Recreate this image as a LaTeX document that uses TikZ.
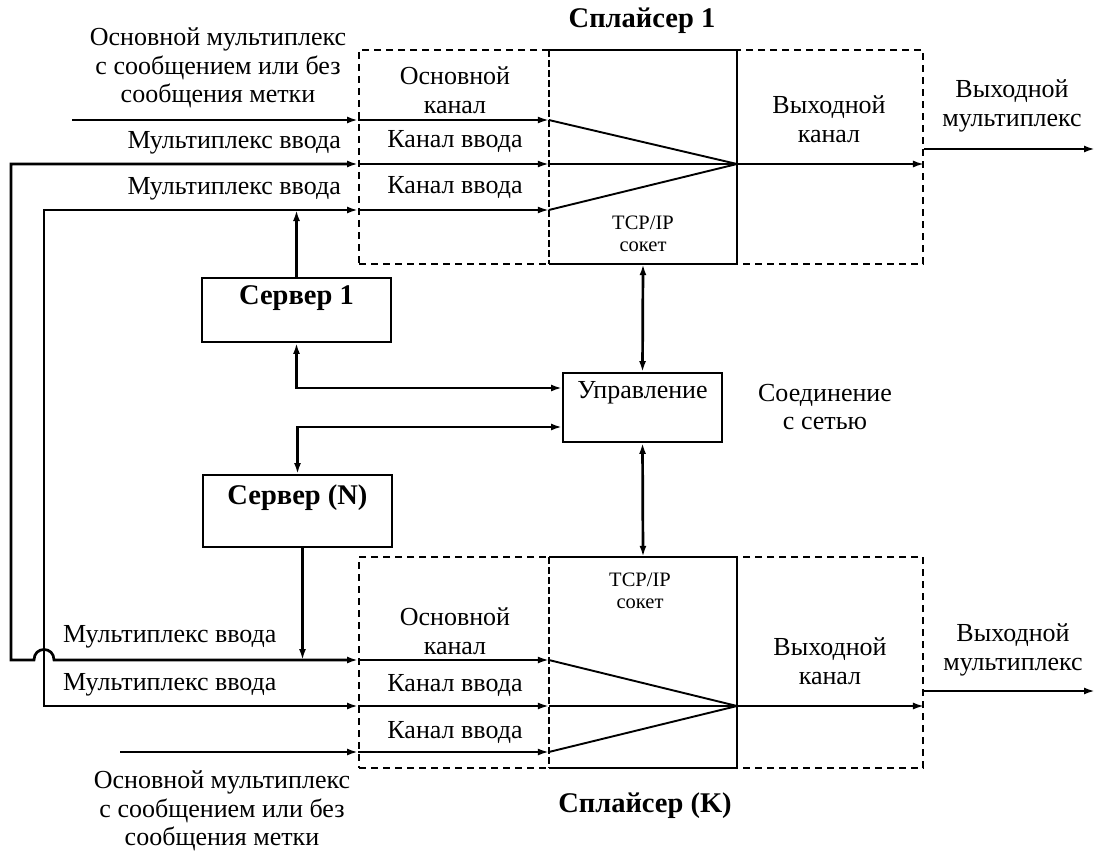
\documentclass[tikz,border=0pt]{standalone}
\usepackage{fontspec}
\setmainfont{Liberation Serif}
\usetikzlibrary{arrows.meta,calc}

\tikzset{
  lbl/.style={font=\fontsize{26}{28.5}\selectfont,align=center,inner sep=0pt},
  ttl/.style={font=\fontsize{28.5}{30}\selectfont\bfseries,inner sep=0pt},
  sml/.style={font=\fontsize{20.5}{22}\selectfont,align=center,inner sep=0pt},
  wire/.style={line width=2.7pt},
  fine/.style={line width=1.9pt},
  sbox/.style={draw,line width=1.9pt,inner sep=0pt},
  dbox/.style={draw,line width=1.9pt,dash pattern=on 7pt off 5pt,inner sep=0pt},
}

\begin{document}
\begin{tikzpicture}[x=1pt,y=-1pt,>={Latex[length=11pt,width=7pt]}]
          \useasboundingbox (0,0) rectangle (1097,853);
          \node[dbox,minimum width=564pt,minimum height=214pt] (spl1) at (641,157) {};
          \node[inner sep=0pt,minimum width=188pt,minimum height=214pt] (sk1) at (643,157) {};
          \draw[fine] (sk1.north west) -- (sk1.north east) -- (sk1.south east) -- (sk1.south west);
          \draw[fine,dash pattern=on 7pt off 3pt] (sk1.north west) -- (sk1.south west);
          \node[dbox,minimum width=564pt,minimum height=211pt] (spl2) at (641,662.5) {};
          \node[inner sep=0pt,minimum width=188pt,minimum height=211pt] (sk2) at (643,662.5) {};
          \draw[fine] (sk2.north west) -- (sk2.north east) -- (sk2.south east) -- (sk2.south west);
          \draw[fine,dash pattern=on 7pt off 3pt] (sk2.north west) -- (sk2.south west);
          \node[sbox,minimum width=189pt,minimum height=64pt,
                label={[ttl,anchor=north,yshift=-8pt]north:Сервер 1}] (srv1) at (296.5,310) {};
          \node[sbox,minimum width=189pt,minimum height=72pt,
                label={[ttl,anchor=north,yshift=-10pt]north:Сервер (N)}] (srvN) at (297.5,511) {};
          \node[sbox,minimum width=159pt,minimum height=69pt,
                label={[lbl,anchor=north,yshift=-9pt]north:Управление}] (ctrl) at (642.5,407.5) {};
          \coordinate (m1) at (737,164);
          \coordinate (m2) at (737,706);
          \foreach \y [count=\i] in {120,164,210}{
            \coordinate (p\i) at (spl1.west |- 0,\y);
            \coordinate (q\i) at (sk1.west |- 0,\y);
            \draw[fine,->] (p\i) -- (q\i);
            \draw[fine] (q\i) -- (m1);
          }
          \foreach \y [count=\i from 4] in {660,706,752}{
            \coordinate (p\i) at (spl2.west |- 0,\y);
            \coordinate (q\i) at (sk2.west |- 0,\y);
            \draw[fine,->] (p\i) -- (q\i);
            \draw[fine] (q\i) -- (m2);
          }
          \coordinate (in1) at (72,120);
          \coordinate (in2) at (120,752);
          \coordinate (out1) at (1095,149);
          \coordinate (out2) at (1095,691);
          \coordinate (jn) at ($(srvN.south)+(5,0)$);
          \draw[wire,->] (in1) -- (p1);
          \draw[wire,->] (in2) -- (p6);
          \draw[wire,<->] (p2) -- (11,164) -- (11,660) -- (34,660)
                .. controls (34,646) and (54,646) .. (54,660) -- (p4);
          \draw[wire,<->] (p3) -- (44,210) -- (44,706) -- (p5);
          \draw[wire,->] (srv1.north) -- (srv1.north |- p3);
          \draw[wire,->] (jn) -- (jn |- p4);
          \draw[wire,<->] (srv1.south) |- ([yshift=19.5pt]ctrl.west);
          \draw[wire,<->] (srvN.north) |- ([yshift=-19.5pt]ctrl.west);
          \draw[wire,<->] (sk1.south) -- (ctrl.north);
          \draw[wire,<->] (ctrl.south) -- (sk2.north);
          \draw[fine,->] (m1) -- (spl1.east |- m1);
          \draw[fine,->] (m2) -- (spl2.east |- m2);
          \draw[wire,->] (spl1.east |- out1) -- (out1);
          \draw[wire,->] (spl2.east |- out2) -- (out2);
          \node[ttl] (t1) at (642,21) {Сплайсер 1};
          \node[lbl] (mux1) at (218,68) {Основной мультиплекс\\с сообщением или без\\сообщения метки};
          \node[lbl,anchor=east] (lin2) at (341,143) {Мультиплекс ввода};
          \node[lbl,anchor=east] (lin3) at (341,189) {Мультиплекс ввода};
          \node[lbl] (ch1) at (455,90) {Основной\\канал};
          \node[lbl] (ch2) at (455,142) {Канал ввода};
          \node[lbl] (ch3) at (455,188) {Канал ввода};
          \node[sml] (tcp1) at (643,234) {TCP/IP\\сокет};
          \node[lbl] (oc1) at (829,119) {Выходной\\канал};
          \node[lbl] (om1) at (1012,106) {Выходной\\мультиплекс};
          \node[lbl] (net) at (825,407) {Соединение\\с сетью};
          \node[lbl,anchor=west] (lin4) at (63,637) {Мультиплекс ввода};
          \node[lbl,anchor=west] (lin5) at (63,685) {Мультиплекс ввода};
          \node[lbl] (ch4) at (455,631) {Основной\\канал};
          \node[lbl] (ch5) at (455,685) {Канал ввода};
          \node[lbl] (ch6) at (455,732) {Канал ввода};
          \node[sml] (tcp2) at (640,591) {TCP/IP\\сокет};
          \node[lbl] (oc2) at (830,661) {Выходной\\канал};
          \node[lbl] (om2) at (1013,650) {Выходной\\мультиплекс};
          \node[ttl] (t2) at (645,806) {Сплайсер (K)};
          \node[lbl] (mux2) at (222,811) {Основной мультиплекс\\с сообщением или без\\сообщения метки};
        \end{tikzpicture}
\end{document}
